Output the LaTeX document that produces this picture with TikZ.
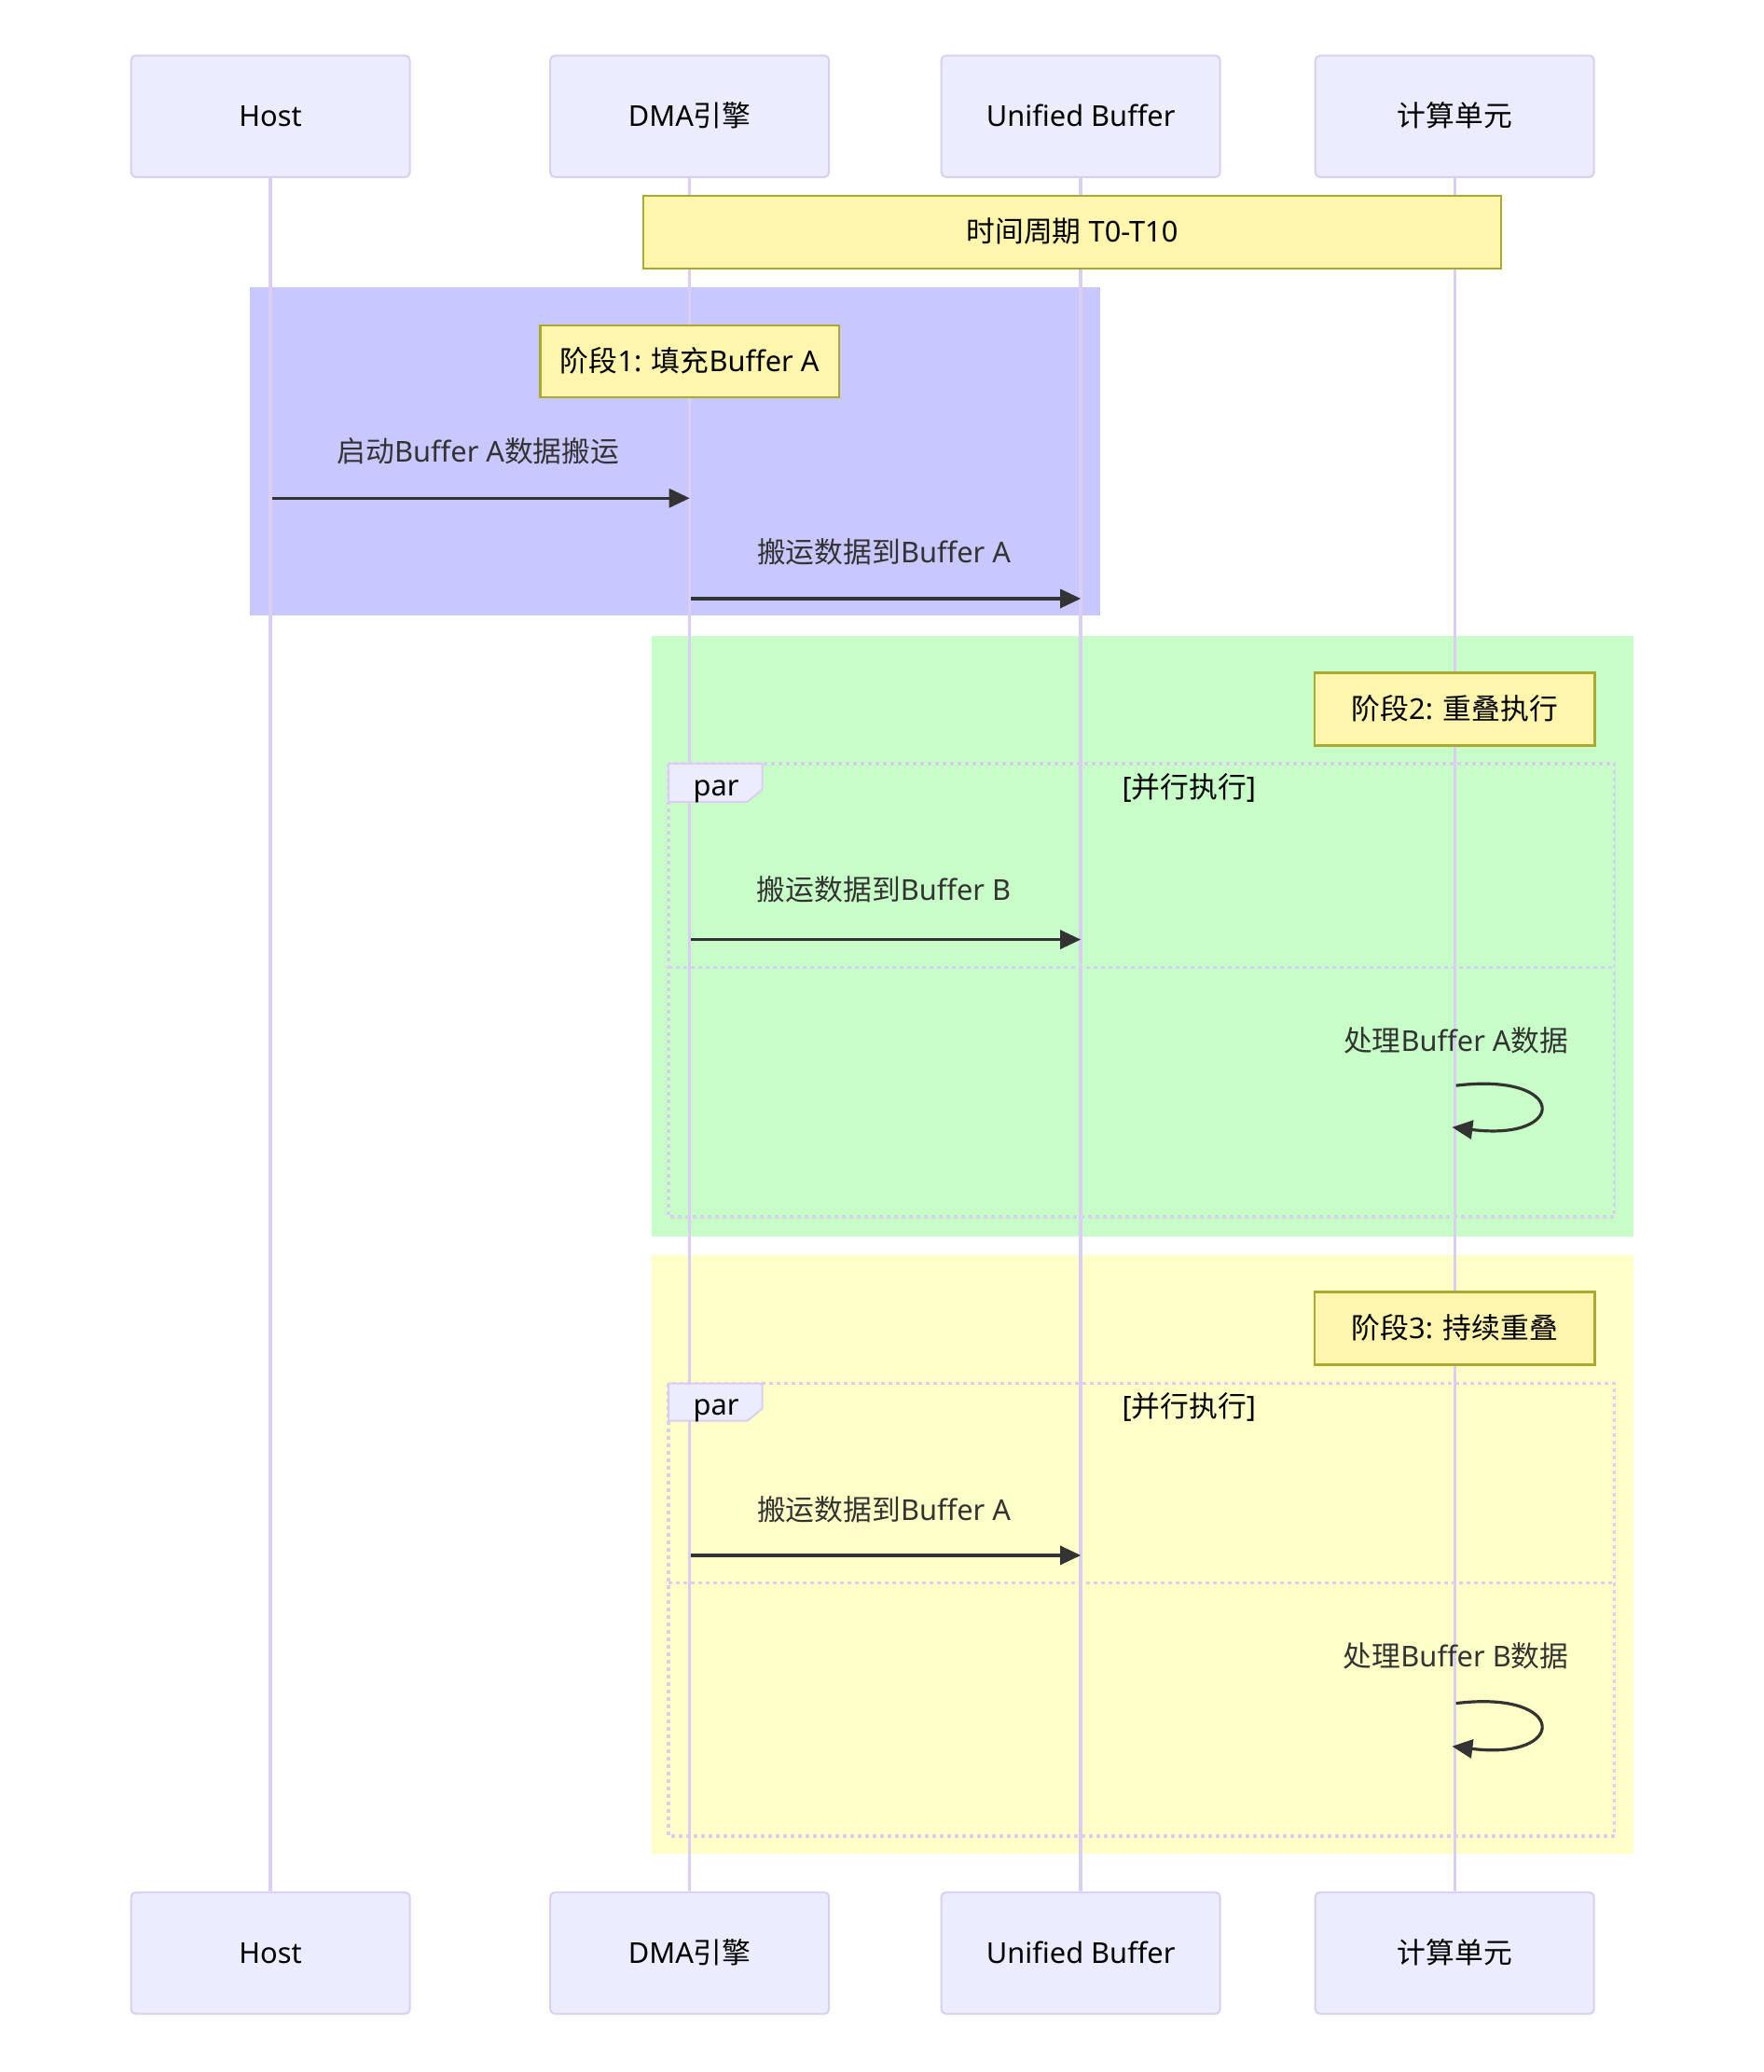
\documentclass[tikz,border=0pt]{standalone}
\usepackage{fontspec}
\setmainfont{Noto Sans}
\newfontfamily\cjk{Noto Sans CJK SC}
\usetikzlibrary{arrows.meta}
\definecolor{actfill}{HTML}{ECECFF}
\definecolor{actline}{RGB}{218,206,243}
\definecolor{notefill}{HTML}{FFF5AD}
\definecolor{noteline}{HTML}{AAAA33}
\definecolor{msgc}{HTML}{333333}
\definecolor{rectA}{RGB}{200,200,255}
\definecolor{rectB}{RGB}{200,255,200}
\definecolor{rectC}{RGB}{255,255,200}
\newcommand\C[1]{{\cjk #1}}
\begin{document}
\begin{tikzpicture}[x=0.70861pt,y=-0.70861pt,
  every node/.style={font=\fontsize{15.4pt}{18pt}\selectfont, inner sep=0pt, text height=1.1em, text depth=0pt},
  actor/.style={draw=actline, fill=actfill, line width=1pt, rounded corners=2.5pt,
    minimum width={211*0.70861pt}, minimum height={92*0.70861pt}, text=black},
  note/.style={draw=noteline, fill=notefill, line width=1.3pt, text=black},
  msglabel/.style={text=msgc},
  life/.style={draw=actline, line width=1.7pt},
  msg/.style={draw=msgc, line width=1.6pt, -{Triangle[length=11pt,width=10pt]}},
  parbox/.style={draw=actline, line width=1.7pt, dash pattern=on 2pt off 2pt},
  partab/.style={draw=actline, fill=actfill, line width=1pt},
]
\useasboundingbox (0,0) rectangle (1335,1568);
\fill[white] (0,0) rectangle (1335,1568);
% background rects
\fill[rectA] (189,217) rectangle (833,466);
\fill[rectB] (493,481) rectangle (1236,935.5);
\fill[rectC] (493,950) rectangle (1236,1403);
% actors
\node[actor] (hostT) at (204.7,88) {Host};
\node[actor] (dmaT) at (522,88) {DMA\C{引擎}};
\node[actor] (ubT) at (818,88) {Unified Buffer};
\node[actor] (cuT) at (1101,88) {\C{计算单元}};
\node[actor] (hostB) at (204.7,1478) {Host};
\node[actor] (dmaB) at (522,1478) {DMA\C{引擎}};
\node[actor] (ubB) at (818,1478) {Unified Buffer};
\node[actor] (cuB) at (1101,1478) {\C{计算单元}};
% lifelines
\draw[life] (hostT.south) -- (hostB.north);
\draw[life] (dmaT.south) -- (dmaB.north);
\draw[life] (ubT.south) -- (ubB.north);
\draw[life] (cuT.south) -- (cuB.north);
% notes
\node[note, minimum width={649*0.70861pt}, minimum height={55*0.70861pt}] (n0) at (811.5,175.6) {\C{时间周期} T0-T10};
\node[note, minimum width={226*0.70861pt}, minimum height={54.5*0.70861pt}] (n1) at (522,273.4) {\C{阶段}1: \C{填充}Buffer A};
\node[note, minimum width={212*0.70861pt}, minimum height={55*0.70861pt}] (n2) at (1101,536.7) {\C{阶段}2: \C{重叠执行}};
\node[note, minimum width={212*0.70861pt}, minimum height={55*0.70861pt}] (n3) at (1101,1005.3) {\C{阶段}3: \C{持续重叠}};
% par box 1
\draw[parbox] (506,578) rectangle (1222,921);
\draw[parbox] (506,732.2) -- (1222,732.2);
\draw[partab] (506,578) -- (577,578) -- (577,597.4) -- (565.7,606.8) -- (506,606.8) -- cycle;
\node[text=black] (par1) at (542,594.5) {par};
\node[text=black] (cond1) at (900,596) {[\C{并行执行}]};
% par box 2
\draw[parbox] (506,1047) rectangle (1222,1389.5);
\draw[parbox] (506,1197.7) -- (1222,1197.7);
\draw[partab] (506,1047) -- (577,1047) -- (577,1065.8) -- (565.7,1075.2) -- (506,1075.2) -- cycle;
\node[text=black] (par2) at (542,1063) {par};
\node[text=black] (cond2) at (900,1064.5) {[\C{并行执行}]};
% messages
\coordinate (m1s) at (206,377);
\coordinate (m1e) at (522,377);
\draw[msg] (m1s) -- (m1e);
\node[msglabel] (t1) at (362,342) {\C{启动}Buffer A\C{数据搬运}};
\coordinate (m2s) at (523,453);
\coordinate (m2e) at (818,453);
\draw[msg] (m2s) -- (m2e);
\node[msglabel] (t2) at (669,418) {\C{搬运数据到}Buffer A};
\coordinate (m3s) at (523,711);
\coordinate (m3e) at (818,711);
\draw[msg] (m3s) -- (m3e);
\node[msglabel] (t3) at (669,673.5) {\C{搬运数据到}Buffer B};
\node[msglabel] (t4) at (1102,787.7) {\C{处理}Buffer A\C{数据}};
\coordinate (l1s) at (1102,821.5);
\coordinate (l1e) at (1099,853);
\draw[msg] (l1s) .. controls (1187,811) and (1187,864) .. (l1e);
\coordinate (m4s) at (523,1177);
\coordinate (m4e) at (818,1177);
\draw[msg] (m4s) -- (m4e);
\node[msglabel] (t5) at (669,1143) {\C{搬运数据到}Buffer A};
\node[msglabel] (t6) at (1102,1253.5) {\C{处理}Buffer B\C{数据}};
\coordinate (l2s) at (1102,1289);
\coordinate (l2e) at (1099,1321.5);
\draw[msg] (l2s) .. controls (1187,1278.5) and (1187,1332.5) .. (l2e);
\end{tikzpicture}
\end{document}
